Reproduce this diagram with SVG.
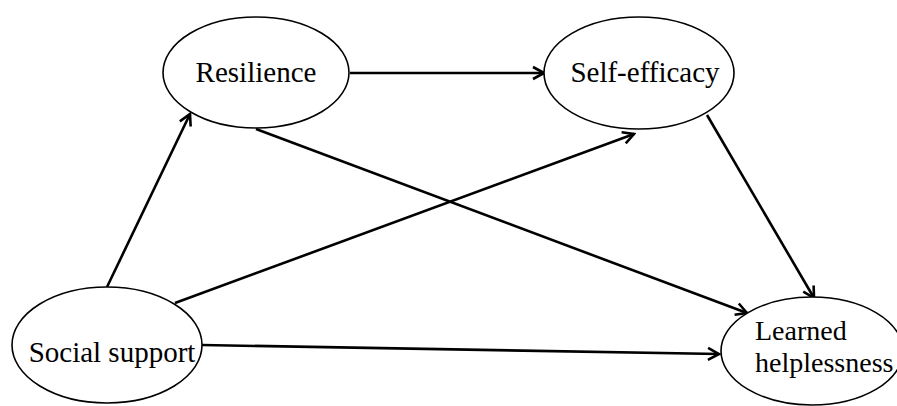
<svg xmlns="http://www.w3.org/2000/svg" width="897" height="406" viewBox="0 0 897 406">
<style>
.node ellipse{fill:#fff;stroke:#000;stroke-width:1.6}
.node text{font-family:"Liberation Serif","Times New Roman",serif;font-size:29px;fill:#000}
.node text.lh{font-size:28px}
.edges line{stroke:#000;stroke-width:2.6;marker-end:url(#arr)}
</style>
<defs>
<marker id="arr" markerUnits="userSpaceOnUse" markerWidth="16" markerHeight="16" viewBox="0 0 16 16" refX="14" refY="8" orient="auto">
<path d="M3,2 L14,8 L3,14" fill="none" stroke="#000" stroke-width="2.6" stroke-linejoin="miter"/>
</marker>
</defs>
<rect width="897" height="406" fill="#fff"/>
<g class="edges">
<line x1="107" y1="287" x2="190" y2="114"/>
<line x1="350" y1="73" x2="544" y2="73"/>
<line x1="175" y1="303" x2="634" y2="134"/>
<line x1="256" y1="129" x2="747" y2="313"/>
<line x1="707" y1="115" x2="814" y2="298"/>
<line x1="202" y1="345" x2="719" y2="354"/>
</g>
<g id="resilience" class="node">
<ellipse cx="256" cy="72.5" rx="93" ry="55.5"/>
<text x="256" y="82" text-anchor="middle">Resilience</text>
</g>
<g id="self-efficacy" class="node">
<ellipse cx="639" cy="73" rx="95" ry="56"/>
<text x="645" y="82" text-anchor="middle">Self-efficacy</text>
</g>
<g id="social-support" class="node">
<ellipse cx="107" cy="345" rx="95" ry="58"/>
<text x="112" y="362" text-anchor="middle">Social support</text>
</g>
<g id="learned-helplessness" class="node">
<ellipse cx="812" cy="351" rx="91" ry="54"/>
<text class="lh" x="755" y="340">Learned</text>
<text class="lh" x="755" y="372">helplessness</text>
</g>
</svg>
